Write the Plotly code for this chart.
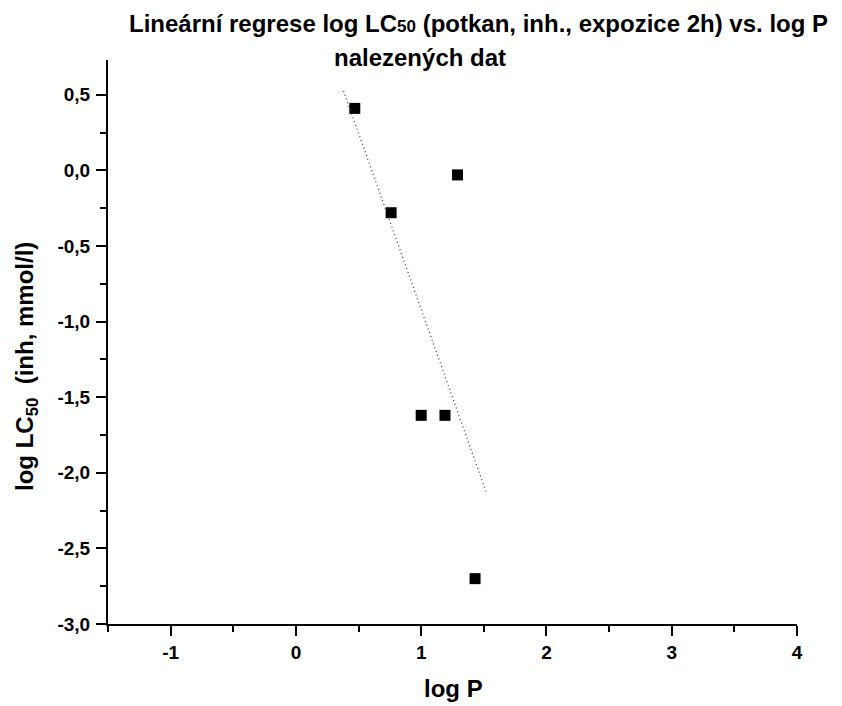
import numpy as np
import plotly.graph_objects as go

# Data
log_p = [0.47, 0.76, 1.29, 1.00, 1.19, 1.43]
log_lc50 = [0.41, -0.28, -0.03, -1.62, -1.62, -2.70]

# Regression line drawn over this x-span
fit_x_span = [0.38, 1.52]

x_tickvals = [-1, 0, 1, 2, 3, 4]
x_ticktext = ["-1", "0", "1", "2", "3", "4"]
y_tickvals = [0.5, 0.0, -0.5, -1.0, -1.5, -2.0, -2.5, -3.0]
y_ticktext = ["0,5", "0,0", "-0,5", "-1,0", "-1,5", "-2,0", "-2,5", "-3,0"]

slope, intercept = np.polyfit(log_p, log_lc50, 1)
fx = np.array(fit_x_span)
fy = slope * fx + intercept

FONT = "Liberation Sans, Arial, sans-serif"

fig = go.Figure()
fig.add_trace(go.Scatter(x=fx, y=fy, mode="lines",
                         line=dict(color="#333333", width=1.2, dash="1px,3px"),
                         showlegend=False, hoverinfo="skip"))
fig.add_trace(go.Scatter(x=log_p, y=log_lc50, mode="markers",
                         marker=dict(symbol="square", size=11, color="black"),
                         showlegend=False))

X0, X1 = -1.5, 4.0
Y0, Y1 = -3.0, 0.73
L, R, T, B = 108, 45, 60, 82
W, H = 842, 706
pw = W - L - R
ph = H - T - B

def px_x(px):
    return (px - L) / pw

def px_y(py):
    return (H - B - py) / ph

fig.update_layout(
    width=W, height=H,
    margin=dict(l=L, r=R, t=T, b=B),
    plot_bgcolor="white", paper_bgcolor="white",
    font=dict(family=FONT, color="black"),
    xaxis=dict(range=[X0, X1], showgrid=False, zeroline=False,
               showline=True, linecolor="black", linewidth=2,
               ticks="outside", ticklen=10, tickwidth=2, tickcolor="black",
               tickvals=x_tickvals, ticktext=x_ticktext,
               tickfont=dict(size=19, family=FONT, weight="bold"),
               minor=dict(dtick=0.5, tick0=-1.5, ticks="outside", ticklen=6,
                          tickwidth=2, tickcolor="black"),
               fixedrange=True),
    yaxis=dict(range=[Y0, Y1], showgrid=False, zeroline=False,
               showline=True, linecolor="black", linewidth=2,
               ticks="outside", ticklen=10, tickwidth=2, tickcolor="black",
               tickvals=y_tickvals, ticktext=y_ticktext,
               tickfont=dict(size=19, family=FONT, weight="bold"),
               ticklabelstandoff=2,
               minor=dict(dtick=0.25, tick0=0, ticks="outside", ticklen=6,
                          tickwidth=2, tickcolor="black"),
               fixedrange=True),
    annotations=[
        dict(text="Lineární regrese log LC<span style='font-size:17px'>50</span> (potkan, inh., expozice 2h) vs. log P",
             x=px_x(478), y=px_y(23), xref="paper", yref="paper",
             showarrow=False, xanchor="center", yanchor="middle",
             font=dict(size=24, family=FONT, weight="bold")),
        dict(text="nalezených dat",
             x=px_x(420), y=px_y(57), xref="paper", yref="paper",
             showarrow=False, xanchor="center", yanchor="middle",
             font=dict(size=24, family=FONT, weight="bold")),
        dict(text="log P",
             x=px_x(453), y=px_y(688), xref="paper", yref="paper",
             showarrow=False, xanchor="center", yanchor="middle",
             font=dict(size=24, family=FONT, weight="bold")),
        dict(text="log LC<sub>50</sub>  (inh, mmol/l)",
             x=px_x(26), y=px_y(367), xref="paper", yref="paper",
             showarrow=False, xanchor="center", yanchor="middle", textangle=-90,
             font=dict(size=24, family=FONT, weight="bold")),
    ],
)

fig.write_html("out.html")
